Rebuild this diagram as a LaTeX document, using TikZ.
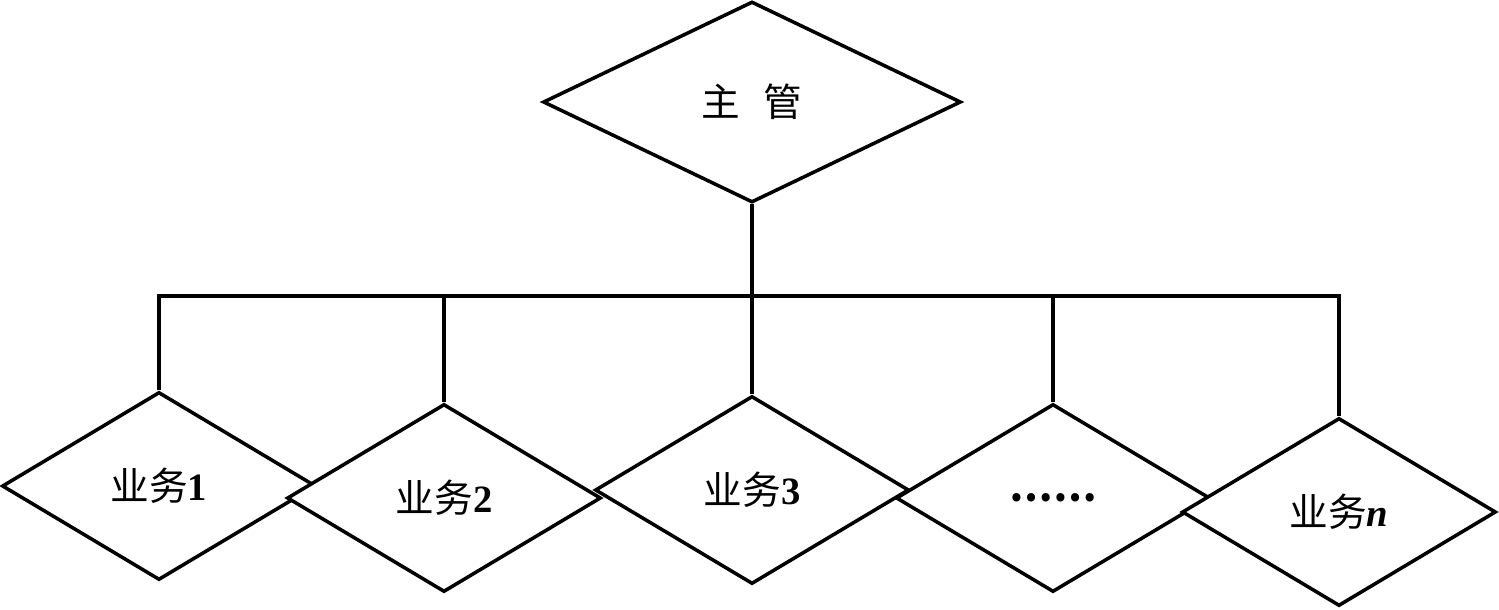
\documentclass[tikz,border=0pt]{standalone}
\usepackage{fontspec}
\setmainfont{Liberation Serif}
\newfontfamily\cjk{Noto Sans CJK SC}
\usetikzlibrary{shapes.geometric}

\begin{document}
\begin{tikzpicture}[line width=1pt,
        biz/.style={diamond, draw, fill=white, inner sep=0pt, minimum width=3.14cm, minimum height=1.88cm, font=\fontsize{11pt}{13pt}\selectfont},
        boss/.style={biz, minimum width=4.18cm, minimum height=2.01cm}]
        \useasboundingbox (0,0) rectangle (14.99,-6.09);

        \node[boss] (zg)  at (7.52,-1.02) {{\cjk 主}\hspace{0.6em}{\cjk 管}};

        \coordinate (b1) at (1.59,-2.96);
        \coordinate (bn) at (13.39,-2.96);

        \node[biz] (yw1) at (1.59,-4.86)  {{\cjk 业务}\textbf{1}};
        \node[biz] (yw2) at (4.44,-4.98)  {{\cjk 业务}\textbf{2}};
        \node[biz] (yw3) at (7.52,-4.90)  {{\cjk 业务}\textbf{3}};
        \node[biz] (yw4) at (10.53,-4.98) {{\cjk\bfseries ……}};
        \node[biz] (ywn) at (13.39,-5.12) {{\cjk 业务}\textbf{\textit{n}}};

        \draw (zg) -- (yw3);
        \draw (yw1.north) -- (b1) -- (bn) -- (ywn.north);
        \draw (yw2.north) -- (yw2.north |- b1);
        \draw (yw4.north) -- (yw4.north |- b1);
\end{tikzpicture}
\end{document}
